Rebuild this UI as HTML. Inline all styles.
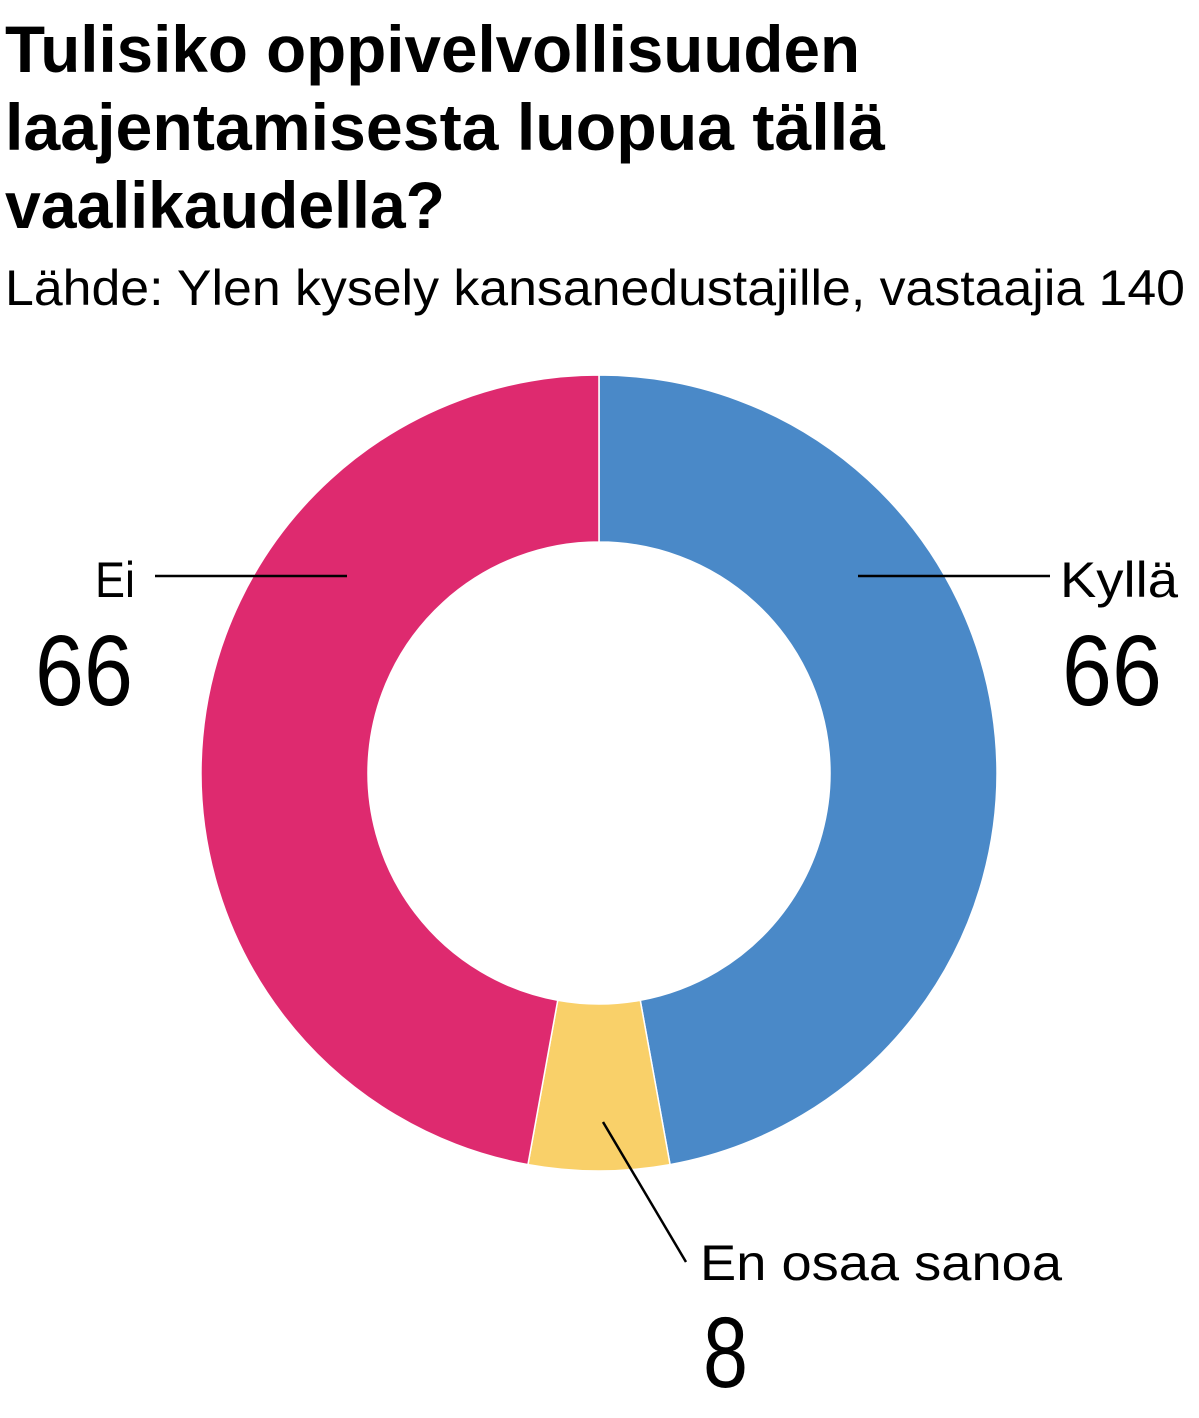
<!DOCTYPE html>
<html><head><meta charset="utf-8"><style>
html,body{margin:0;padding:0;background:#fff;width:1199px;height:1418px;overflow:hidden}
svg{display:block;font-family:"Liberation Sans",sans-serif}
</style></head><body>
<svg width="1199" height="1418" viewBox="0 0 1199 1418">
<g font-weight="bold" font-size="66" fill="#000">
<text x="5" y="72" textLength="855" lengthAdjust="spacingAndGlyphs">Tulisiko oppivelvollisuuden</text>
<text x="5" y="150" textLength="880" lengthAdjust="spacingAndGlyphs">laajentamisesta luopua tällä</text>
<text x="5" y="228" textLength="440" lengthAdjust="spacingAndGlyphs">vaalikaudella?</text>
</g>
<text x="5" y="305" font-size="50" textLength="1180" lengthAdjust="spacingAndGlyphs">Lähde: Ylen kysely kansanedustajille, vastaajia 140</text>
<g id="slices"></g>
<g id="labels" fill="#000">
<text x="135" y="597" font-size="50" text-anchor="end" textLength="40" lengthAdjust="spacingAndGlyphs">Ei</text>
<text x="133" y="705" font-size="100" text-anchor="end" textLength="98" lengthAdjust="spacingAndGlyphs">66</text>
<text x="1060" y="597" font-size="50" textLength="118" lengthAdjust="spacingAndGlyphs">Kyllä</text>
<text x="1062" y="705" font-size="100" textLength="100" lengthAdjust="spacingAndGlyphs">66</text>
<text x="700" y="1280" font-size="50" textLength="362" lengthAdjust="spacingAndGlyphs">En osaa sanoa</text>
<text x="703" y="1387" font-size="100" textLength="45" lengthAdjust="spacingAndGlyphs">8</text>
<line x1="155" y1="576" x2="347" y2="576" stroke="#000" stroke-width="2.5"/>
<line x1="858" y1="576" x2="1050" y2="576" stroke="#000" stroke-width="2.5"/>
<line x1="603" y1="1122" x2="686" y2="1262" stroke="#000" stroke-width="2.5"/>
</g>
</svg>
<script>
const categories = ["Kyllä", "En osaa sanoa", "Ei"];
const values = [66, 8, 66];
const colors = ["#4a89c8", "#f9d069", "#de2a6f"];
const cx = 599, cy = 773, R = 398, r = 231;
const total = values.reduce((a, b) => a + b, 0);
const g = document.getElementById('slices');
let a0 = 0;
function pt(rad, ang) { return [cx + rad * Math.sin(ang), cy - rad * Math.cos(ang)]; }
values.forEach((v, i) => {
  const a1 = a0 + v / total * 2 * Math.PI;
  const large = (a1 - a0) > Math.PI ? 1 : 0;
  const p1 = pt(R, a0), p2 = pt(R, a1), p3 = pt(r, a1), p4 = pt(r, a0);
  const d = `M${p1[0]},${p1[1]} A${R},${R} 0 ${large} 1 ${p2[0]},${p2[1]} L${p3[0]},${p3[1]} A${r},${r} 0 ${large} 0 ${p4[0]},${p4[1]} Z`;
  const p = document.createElementNS('http://www.w3.org/2000/svg', 'path');
  p.setAttribute('d', d);
  p.setAttribute('fill', colors[i]);
  p.setAttribute('stroke', '#fff');
  p.setAttribute('stroke-width', '1.5');
  
  
  g.appendChild(p);
  a0 = a1;
});
</script>
</body></html>
